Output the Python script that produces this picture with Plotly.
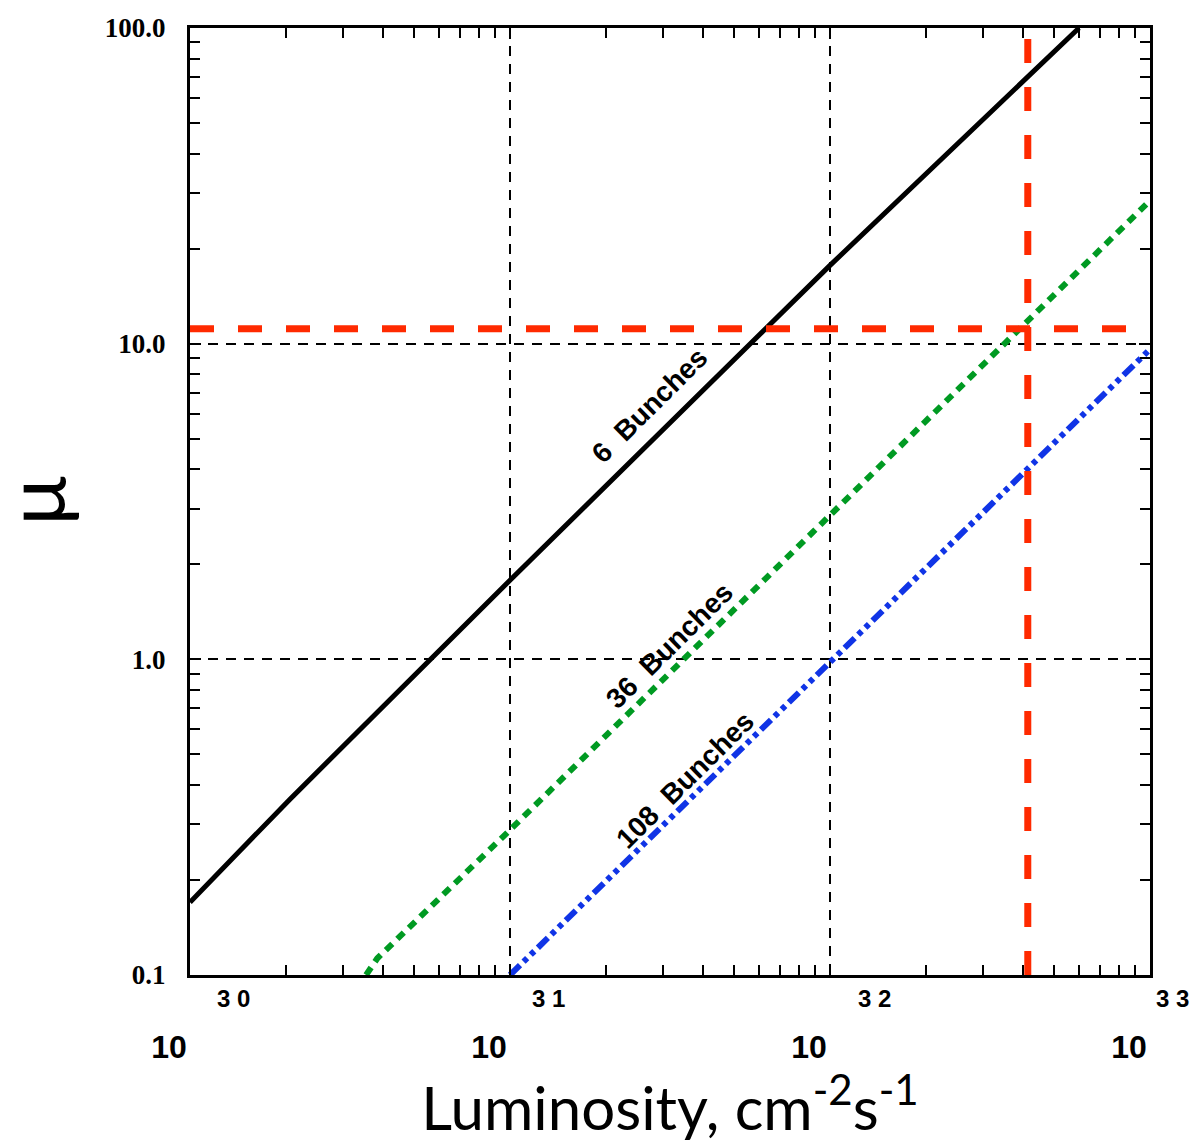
import math
import plotly.graph_objects as go

# ---- data ----
lum_6 = [1e30, 2.05e30, 1e31, 1e32, 6.0e32]
mu_6 = [0.17, 0.36, 1.78, 17.7, 100.0]

lum_36 = [3.55e30, 3.85e30, 1e31, 1e32, 1e33]
mu_36 = [0.1, 0.113, 0.288, 2.86, 28.4]

lum_108 = [1.0e31, 1e32, 1e33]
mu_108 = [0.1, 0.98, 9.6]

mu_limit = 11.15        # horizontal red dashed line
lum_limit = 4.15e32     # vertical red dashed line
lum_span = [1e30, 1e33]
mu_span = [0.1, 100.0]

x_tick_vals = [1e30, 1e31, 1e32, 1e33]
x_tick_base = ["10", "10", "10", "10"]
x_tick_exp = ["3 0", "3 1", "3 2", "3 3"]
y_tick_vals = [0.1, 1.0, 10.0, 100.0]
y_tick_text = ["0.1", "1.0", "10.0", "100.0"]

x_minor = [float(m) * 10.0 ** e for e in (30, 31, 32) for m in range(2, 10)]
y_minor = [float(m) * 10.0 ** e for e in (-1, 0, 1) for m in range(2, 10)]

curve_labels = ["6&nbsp;&nbsp;Bunches", "36&nbsp;&nbsp;Bunches", "108&nbsp;&nbsp;Bunches"]
label_lum = [2.73e31, 3.15e31, 3.54e31]
label_mu = [6.37, 1.107, 0.415]

y_title = "μ"
x_title = "Luminosity, cm<sup>-2</sup>s<sup>-1</sup>"

RED = "#ff2a00"
GREEN = "#009a22"
BLUE = "#1034e6"

fig = go.Figure()
fig.add_trace(go.Scatter(x=lum_6, y=mu_6, mode="lines",
                         line=dict(color="black", width=5), name="6 Bunches"))
fig.add_trace(go.Scatter(x=lum_36, y=mu_36, mode="lines",
                         line=dict(color=GREEN, width=6, dash="9px,7px"), name="36 Bunches"))
fig.add_trace(go.Scatter(x=lum_108, y=mu_108, mode="lines",
                         line=dict(color=BLUE, width=6, dash="14px,5px,5px,5px,5px,5px"),
                         name="108 Bunches"))
fig.add_trace(go.Scatter(x=lum_span, y=[mu_limit, mu_limit], mode="lines",
                         line=dict(color=RED, width=7, dash="24px,24px"), name="mu limit"))
fig.add_trace(go.Scatter(x=[lum_limit, lum_limit], y=mu_span, mode="lines",
                         line=dict(color=RED, width=7, dash="24px,24px"), name="L limit"))

annotations = []
for txt, lx, ly in zip(curve_labels, label_lum, label_mu):
    annotations.append(dict(x=math.log10(lx), y=math.log10(ly), xref="x", yref="y",
                            text=txt, showarrow=False, textangle=-44.7,
                            font=dict(family="Liberation Sans", size=28, color="black", weight="bold")))

exp_shift = [43, 38, 44, 22]
for v, e, s in zip(x_tick_vals, x_tick_exp, exp_shift):
    annotations.append(dict(x=math.log10(v), y=0, xref="x", yref="paper",
                            yanchor="middle", yshift=-23, xshift=s,
                            text=e, showarrow=False,
                            font=dict(family="Liberation Sans", size=24, color="black", weight="bold")))

# y-axis title (placed to the left of the tick labels)
annotations.append(dict(x=0, y=0.5, xref="paper", yref="paper",
                        xanchor="center", yanchor="middle", xshift=-158,
                        text=y_title, showarrow=False, textangle=-90,
                        font=dict(family="Lato", size=82, color="black")))

fig.update_layout(
    width=1195, height=1143,
    margin=dict(l=190, r=45, t=28, b=168),
    paper_bgcolor="white", plot_bgcolor="white",
    showlegend=False,
    annotations=annotations,
)

fig.update_xaxes(
    type="log", range=[30, 33],
    tickvals=x_tick_vals, ticktext=x_tick_base,
    ticks="inside", ticklen=11, tickwidth=2, tickcolor="black",
    ticklabelshift=-21, ticklabelstandoff=42,
    tickfont=dict(family="Liberation Sans", size=32, color="black", weight="bold"),
    showline=True, linewidth=3, linecolor="black", mirror="allticks",
    showgrid=True, gridcolor="black", gridwidth=1.5, griddash="10px,8px",
    minor=dict(tickvals=x_minor, ticks="inside", ticklen=10, tickwidth=2,
               tickcolor="black", showgrid=False),
    zeroline=False,
    title=dict(text=x_title, standoff=18,
               font=dict(family="Lato", size=60, color="black")),
)
fig.update_yaxes(
    type="log", range=[-1, 2],
    tickvals=y_tick_vals, ticktext=y_tick_text,
    ticks="inside", ticklen=11, tickwidth=2, tickcolor="black",
    ticklabelstandoff=16,
    tickfont=dict(family="Liberation Serif", size=27, color="black", weight="bold"),
    showline=True, linewidth=3, linecolor="black", mirror="allticks",
    showgrid=True, gridcolor="black", gridwidth=1.5, griddash="10px,8px",
    minor=dict(tickvals=y_minor, ticks="inside", ticklen=10, tickwidth=2,
               tickcolor="black", showgrid=False),
    zeroline=False,
)

fig.write_html("out.html")
